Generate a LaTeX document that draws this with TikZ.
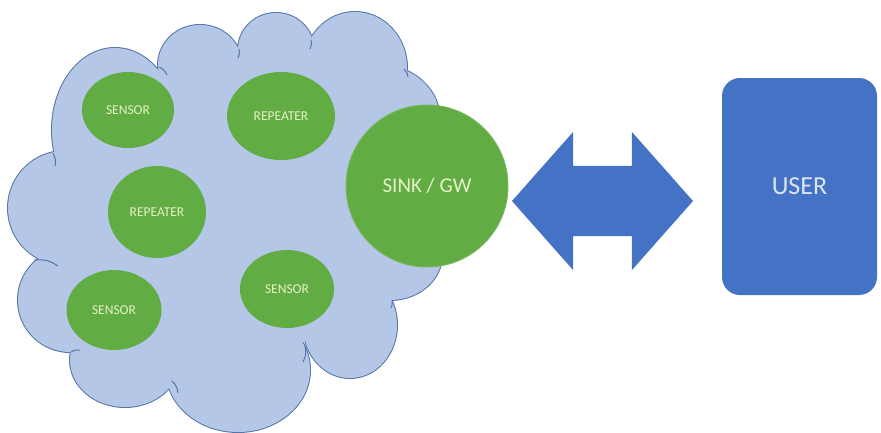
\documentclass[tikz,border=0pt]{standalone}
\usepackage{fontspec}
\setmainfont{Carlito}
\usetikzlibrary{shapes.geometric,shapes.arrows}
\definecolor{cloudfill}{HTML}{B4C7E7}
\definecolor{cloudline}{HTML}{5475A8}
\definecolor{motegreen}{HTML}{62AC44}
\definecolor{motetext}{HTML}{E6F1C8}
\definecolor{userblue}{HTML}{4472C4}
\definecolor{usertext}{HTML}{DCE5F4}

\begin{document}
\begin{tikzpicture}[x=1pt,y=-1pt,
  lobe/.style={draw=cloudline,line width=2pt,fill=cloudfill},
  curl/.style={draw=cloudline,line width=1pt},
  mote/.style={ellipse,fill=motegreen,inner sep=0pt,text=motetext,font=\fontsize{13.5}{15}\selectfont},
  sinkbox/.style={circle,fill=motegreen,draw=motegreen!85!white,line width=1pt,inner sep=0pt,minimum size=162pt,text=motetext,font=\fontsize{21}{24}\selectfont},
  linkarrow/.style={double arrow,fill=userblue,inner xsep=0pt,inner ysep=35pt,minimum height=181pt,minimum width=138pt,double arrow head extend=34pt,double arrow tip angle=97},
  userbox/.style={rectangle,rounded corners=18pt,fill=userblue,minimum width=155pt,minimum height=217pt,text=usertext,font=\fontsize{26}{30}\selectfont}]
\useasboundingbox (0,0) rectangle (881,432);
\foreach \c/\rx/\ry in {{(115,130)}/63/82,{(200,65)}/42/40,{(276,50)}/38/37,{(355,68)}/52/56,{(380,120)}/60/55,{(390,255)}/52/45,{(350,325)}/47/53,{(238,370)}/72/62,{(125,360)}/55/47,{(70,300)}/52/52,{(65,208)}/57/57}{
\draw[lobe] \c ellipse [x radius=\rx, y radius=\ry];
}
\foreach \c/\rx/\ry in {{(115,130)}/63/82,{(200,65)}/42/40,{(276,50)}/38/37,{(355,68)}/52/56,{(380,120)}/60/55,{(390,255)}/52/45,{(350,325)}/47/53,{(238,370)}/72/62,{(125,360)}/55/47,{(70,300)}/52/52,{(65,208)}/57/57}{
\fill[cloudfill] \c ellipse [x radius=\rx, y radius=\ry];
}
\fill[cloudfill] (60,155)--(165,80)--(240,62)--(312,52)--(400,78)--(430,115)--(430,265)--(388,298)--(310,340)--(175,372)--(75,345)--(65,262)--cycle;
\foreach \xa/\ya/\xb/\yb in {53/153/55/166,159/67/167/75,239/49/238/58,311/40/310/49,404/69/408/77,392/301/391/308,305/346/303/362,172/381/178/393,71/352/80/350,34/260/58/266}{
\draw[curl] (\xa,\ya) to[bend left=20] (\xb,\yb);
}
\foreach \nm/\pos/\w/\h/\txt in {sensorA/{(128,110)}/92/76/SENSOR,repeaterA/{(281,116)}/108/88/REPEATER,repeaterB/{(157,212)}/98/92/REPEATER,sensorB/{(114,310)}/95/80/SENSOR,sensorC/{(287,289)}/94/78/SENSOR}{
\node[mote,minimum width=\w pt,minimum height=\h pt] (\nm) at \pos {\txt};
}
\node[sinkbox] (sink) at (427,186) {SINK / GW};
\node[linkarrow] (link) at (602.5,201) {};
\node[userbox] (user) at (799.5,186.5) {USER};
\end{tikzpicture}
\end{document}
